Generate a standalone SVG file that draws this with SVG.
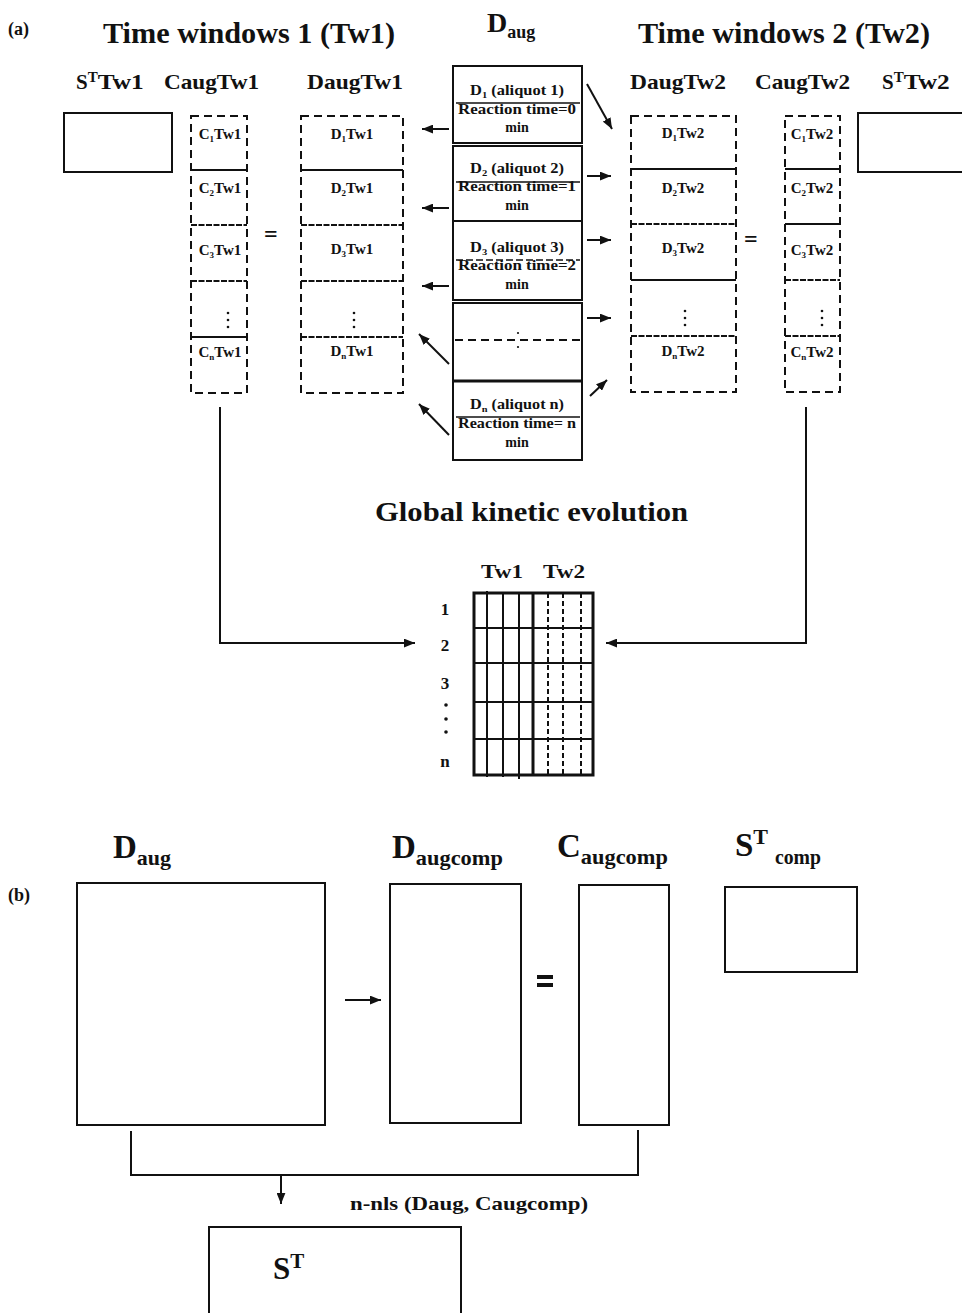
<svg xmlns="http://www.w3.org/2000/svg" width="962" height="1313" viewBox="0 0 962 1313" font-family="'Liberation Serif', 'Times New Roman', Times, serif">
<style>
text{font-family:'Liberation Serif','Times New Roman',Times,serif;font-weight:bold;fill:#111}
.box{fill:none;stroke:#111;stroke-width:2}
.dbox{fill:none;stroke:#111;stroke-width:2;stroke-dasharray:8 5}
.sep{stroke:#111;stroke-width:2}
.wav{stroke:#111;stroke-width:2.2;stroke-dasharray:6 1.5}
.cell{font-size:15px}
.hdr{font-size:21px}
.big{font-size:29px}
.al{font-size:14px}
.dot{fill:#111}
</style>
<defs>
<marker id="ah" viewBox="0 0 10 8" refX="10" refY="4" markerWidth="11" markerHeight="9" markerUnits="userSpaceOnUse" orient="auto"><path d="M0,0 L10,4 L0,8 z" fill="#111"/></marker>
</defs>
<rect width="962" height="1313" fill="#fff"/>

<g id="titles-a">
<text x="8" y="35" font-size="18">(a)</text>
<text x="103" y="43" class="big" textLength="292" lengthAdjust="spacingAndGlyphs">Time windows 1 (Tw1)</text>
<text x="487" y="32" font-size="28">D<tspan font-size="18" dy="6">aug</tspan></text>
<text x="638" y="43" class="big" textLength="292" lengthAdjust="spacingAndGlyphs">Time windows 2 (Tw2)</text>
</g>

<g id="st-tw1">
<text x="76" y="89" class="hdr">S<tspan font-size="15" dy="-7">T</tspan><tspan dy="7" textLength="46" lengthAdjust="spacingAndGlyphs">Tw1</tspan></text>
<rect x="64" y="113" width="108" height="59" class="box"/>
</g>

<g id="caug-tw1">
<text x="164" y="89" class="hdr" textLength="95" lengthAdjust="spacingAndGlyphs">CaugTw1</text>
<rect x="191" y="116" width="56" height="277" class="dbox"/>
<line x1="191" y1="170" x2="247" y2="170" class="sep"/>
<line x1="191" y1="225" x2="247" y2="225" class="wav"/>
<line x1="191" y1="281" x2="247" y2="281" class="wav"/>
<line x1="191" y1="337" x2="247" y2="337" class="sep"/>
<text x="220" y="139" class="cell" text-anchor="middle">C<tspan font-size="9" dy="3">1</tspan><tspan dy="-3">Tw1</tspan></text>
<text x="220" y="193" class="cell" text-anchor="middle">C<tspan font-size="9" dy="3">2</tspan><tspan dy="-3">Tw1</tspan></text>
<text x="220" y="255" class="cell" text-anchor="middle">C<tspan font-size="9" dy="3">3</tspan><tspan dy="-3">Tw1</tspan></text>
<circle cx="228" cy="313" r="1.3" class="dot"/><circle cx="228" cy="320" r="1.3" class="dot"/><circle cx="228" cy="327" r="1.3" class="dot"/>
<text x="220" y="357" class="cell" text-anchor="middle">C<tspan font-size="9" dy="3">n</tspan><tspan dy="-3">Tw1</tspan></text>
</g>

<text x="264" y="242" font-size="24">=</text>

<g id="daug-tw1">
<text x="307" y="89" class="hdr" textLength="96" lengthAdjust="spacingAndGlyphs">DaugTw1</text>
<rect x="301" y="116" width="102" height="277" class="dbox"/>
<line x1="301" y1="170" x2="403" y2="170" class="sep"/>
<line x1="301" y1="225" x2="403" y2="225" class="wav"/>
<line x1="301" y1="281" x2="403" y2="281" class="wav"/>
<line x1="301" y1="337" x2="403" y2="337" class="wav"/>
<text x="352" y="139" class="cell" text-anchor="middle">D<tspan font-size="9" dy="3">1</tspan><tspan dy="-3">Tw1</tspan></text>
<text x="352" y="193" class="cell" text-anchor="middle">D<tspan font-size="9" dy="3">2</tspan><tspan dy="-3">Tw1</tspan></text>
<text x="352" y="254" class="cell" text-anchor="middle">D<tspan font-size="9" dy="3">3</tspan><tspan dy="-3">Tw1</tspan></text>
<circle cx="354" cy="313" r="1.3" class="dot"/><circle cx="354" cy="320" r="1.3" class="dot"/><circle cx="354" cy="327" r="1.3" class="dot"/>
<text x="352" y="356" class="cell" text-anchor="middle">D<tspan font-size="9" dy="3">n</tspan><tspan dy="-3">Tw1</tspan></text>
</g>

<g id="daug-stack">
<rect x="453" y="66" width="129" height="77" class="box"/>
<rect x="453" y="146" width="129" height="75" class="box"/>
<rect x="453" y="221" width="129" height="79" class="box"/>
<rect x="453" y="303" width="129" height="78" class="box"/>
<rect x="453" y="381" width="129" height="79" class="box"/>
<line x1="453" y1="381" x2="582" y2="381" stroke="#111" stroke-width="3"/>
<text x="517" y="95" class="al" text-anchor="middle" textLength="94" lengthAdjust="spacingAndGlyphs">D<tspan font-size="9" dy="3">1</tspan><tspan dy="-3"> (aliquot 1)</tspan></text>
<line x1="456" y1="103" x2="580" y2="103" stroke="#111" stroke-width="1.5"/>
<text x="517" y="114" class="al" text-anchor="middle" textLength="118" lengthAdjust="spacingAndGlyphs">Reaction time=0</text>
<text x="517" y="132" class="al" text-anchor="middle">min</text>
<text x="517" y="173" class="al" text-anchor="middle" textLength="94" lengthAdjust="spacingAndGlyphs">D<tspan font-size="9" dy="3">2</tspan><tspan dy="-3"> (aliquot 2)</tspan></text>
<line x1="456" y1="182" x2="580" y2="182" stroke="#111" stroke-width="1.5"/>
<text x="517" y="191" class="al" text-anchor="middle" textLength="118" lengthAdjust="spacingAndGlyphs">Reaction time=1</text>
<text x="517" y="210" class="al" text-anchor="middle">min</text>
<text x="517" y="252" class="al" text-anchor="middle" textLength="94" lengthAdjust="spacingAndGlyphs">D<tspan font-size="9" dy="3">3</tspan><tspan dy="-3"> (aliquot 3)</tspan></text>
<line x1="456" y1="260" x2="580" y2="260" stroke="#111" stroke-width="1.5" stroke-dasharray="7 3"/>
<text x="517" y="270" class="al" text-anchor="middle" textLength="118" lengthAdjust="spacingAndGlyphs">Reaction time=2</text>
<text x="517" y="289" class="al" text-anchor="middle">min</text>
<line x1="455" y1="340" x2="580" y2="340" stroke="#111" stroke-width="2" stroke-dasharray="8 5"/>
<circle cx="518" cy="333" r="1.1" class="dot"/><circle cx="518" cy="347" r="1.1" class="dot"/>
<text x="517" y="409" class="al" text-anchor="middle" textLength="94" lengthAdjust="spacingAndGlyphs">D<tspan font-size="9" dy="3">n</tspan><tspan dy="-3"> (aliquot n)</tspan></text>
<line x1="456" y1="417" x2="580" y2="417" stroke="#111" stroke-width="1.5"/>
<text x="517" y="428" class="al" text-anchor="middle" textLength="118" lengthAdjust="spacingAndGlyphs">Reaction time= n</text>
<text x="517" y="447" class="al" text-anchor="middle">min</text>
</g>

<g id="daug-tw2">
<text x="630" y="89" class="hdr" textLength="96" lengthAdjust="spacingAndGlyphs">DaugTw2</text>
<rect x="631" y="116" width="105" height="276" class="dbox"/>
<line x1="631" y1="169" x2="736" y2="169" class="sep"/>
<line x1="631" y1="224" x2="736" y2="224" class="wav"/>
<line x1="631" y1="280" x2="736" y2="280" class="sep"/>
<line x1="631" y1="336" x2="736" y2="336" class="wav"/>
<text x="683" y="138" class="cell" text-anchor="middle">D<tspan font-size="9" dy="3">1</tspan><tspan dy="-3">Tw2</tspan></text>
<text x="683" y="193" class="cell" text-anchor="middle">D<tspan font-size="9" dy="3">2</tspan><tspan dy="-3">Tw2</tspan></text>
<text x="683" y="253" class="cell" text-anchor="middle">D<tspan font-size="9" dy="3">3</tspan><tspan dy="-3">Tw2</tspan></text>
<circle cx="685" cy="311" r="1.3" class="dot"/><circle cx="685" cy="318" r="1.3" class="dot"/><circle cx="685" cy="325" r="1.3" class="dot"/>
<text x="683" y="356" class="cell" text-anchor="middle">D<tspan font-size="9" dy="3">n</tspan><tspan dy="-3">Tw2</tspan></text>
</g>

<text x="744" y="247" font-size="24">=</text>

<g id="caug-tw2">
<text x="755" y="89" class="hdr" textLength="95" lengthAdjust="spacingAndGlyphs">CaugTw2</text>
<rect x="785" y="116" width="55" height="276" class="dbox"/>
<line x1="785" y1="169" x2="840" y2="169" class="sep"/>
<line x1="785" y1="224" x2="840" y2="224" class="sep"/>
<line x1="785" y1="280" x2="840" y2="280" class="wav"/>
<line x1="785" y1="336" x2="840" y2="336" class="wav"/>
<text x="812" y="139" class="cell" text-anchor="middle">C<tspan font-size="9" dy="3">1</tspan><tspan dy="-3">Tw2</tspan></text>
<text x="812" y="193" class="cell" text-anchor="middle">C<tspan font-size="9" dy="3">2</tspan><tspan dy="-3">Tw2</tspan></text>
<text x="812" y="255" class="cell" text-anchor="middle">C<tspan font-size="9" dy="3">3</tspan><tspan dy="-3">Tw2</tspan></text>
<circle cx="822" cy="311" r="1.3" class="dot"/><circle cx="822" cy="318" r="1.3" class="dot"/><circle cx="822" cy="325" r="1.3" class="dot"/>
<text x="812" y="357" class="cell" text-anchor="middle">C<tspan font-size="9" dy="3">n</tspan><tspan dy="-3">Tw2</tspan></text>
</g>

<g id="st-tw2">
<text x="882" y="89" class="hdr">S<tspan font-size="15" dy="-7">T</tspan><tspan dy="7" textLength="46" lengthAdjust="spacingAndGlyphs">Tw2</tspan></text>
<rect x="858" y="113" width="112" height="59" class="box"/>
</g>

<g id="global-grid">
<text x="375" y="521" font-size="28" textLength="313" lengthAdjust="spacingAndGlyphs">Global kinetic evolution</text>
<text x="481" y="578" font-size="19" textLength="42" lengthAdjust="spacingAndGlyphs">Tw1</text>
<text x="543" y="578" font-size="19" textLength="42" lengthAdjust="spacingAndGlyphs">Tw2</text>
<text x="445" y="615" font-size="17" text-anchor="middle">1</text>
<text x="445" y="651" font-size="17" text-anchor="middle">2</text>
<text x="445" y="689" font-size="17" text-anchor="middle">3</text>
<circle cx="446" cy="705" r="1.8" class="dot"/><circle cx="446" cy="719" r="1.8" class="dot"/><circle cx="446" cy="732" r="1.8" class="dot"/>
<text x="445" y="767" font-size="17" text-anchor="middle">n</text>
<line x1="474" y1="628" x2="594" y2="628" class="sep"/>
<line x1="474" y1="663" x2="594" y2="663" class="sep"/>
<line x1="474" y1="702" x2="594" y2="702" class="sep"/>
<line x1="474" y1="739" x2="594" y2="739" class="sep"/>
<line x1="487" y1="591" x2="487" y2="777" class="sep"/>
<line x1="503" y1="593" x2="503" y2="777" class="sep"/>
<line x1="519" y1="593" x2="519" y2="779" class="sep"/>
<line x1="533" y1="593" x2="533" y2="775" stroke="#111" stroke-width="3"/>
<line x1="548" y1="593" x2="548" y2="775" stroke="#111" stroke-width="2" stroke-dasharray="5 3"/>
<line x1="563" y1="593" x2="563" y2="775" stroke="#111" stroke-width="2" stroke-dasharray="5 3"/>
<line x1="581" y1="593" x2="581" y2="775" stroke="#111" stroke-width="2" stroke-dasharray="5 3"/>
<rect x="474" y="593" width="119" height="182" fill="none" stroke="#111" stroke-width="3"/>
</g>

<g id="daug-b">
<text x="8" y="901" font-size="18">(b)</text>
<text x="113" y="858" font-size="33">D<tspan font-size="22" dy="7">aug</tspan></text>
<rect x="77" y="883" width="248" height="242" class="box"/>
</g>
<g id="daugcomp-b">
<text x="392" y="858" font-size="33">D<tspan font-size="22" dy="7" textLength="87" lengthAdjust="spacingAndGlyphs">augcomp</tspan></text>
<rect x="390" y="884" width="131" height="239" class="box"/>
</g>
<g id="eq-b">
<rect x="537" y="975" width="16" height="4" fill="#111"/>
<rect x="537" y="983" width="16" height="4" fill="#111"/>
</g>
<g id="caugcomp-b">
<text x="557" y="857" font-size="33">C<tspan font-size="22" dy="7" textLength="87" lengthAdjust="spacingAndGlyphs">augcomp</tspan></text>
<rect x="579" y="885" width="90" height="240" class="box"/>
</g>
<g id="stcomp-b">
<text x="735" y="856" font-size="33">S<tspan font-size="22" dy="-12">T</tspan></text>
<text x="775" y="864" font-size="22" textLength="46" lengthAdjust="spacingAndGlyphs">comp</text>
<rect x="725" y="887" width="132" height="85" class="box"/>
</g>
<g id="st-b">
<rect x="209" y="1227" width="252" height="100" class="box"/>
<text x="273" y="1279" font-size="31">S<tspan font-size="21" dy="-11">T</tspan></text>
</g>
<text x="350" y="1210" font-size="19" textLength="238" lengthAdjust="spacingAndGlyphs">n-nls (Daug, Caugcomp)</text>

<g id="connectors" fill="none" stroke="#111" stroke-width="2">
<line x1="449" y1="129" x2="422" y2="129" marker-end="url(#ah)"/>
<line x1="449" y1="208" x2="422" y2="208" marker-end="url(#ah)"/>
<line x1="449" y1="286" x2="422" y2="286" marker-end="url(#ah)"/>
<line x1="449" y1="364" x2="419" y2="334" marker-end="url(#ah)"/>
<line x1="449" y1="435" x2="419" y2="404" marker-end="url(#ah)"/>
<line x1="587" y1="84" x2="612" y2="129" marker-end="url(#ah)"/>
<line x1="587" y1="176" x2="611" y2="176" marker-end="url(#ah)"/>
<line x1="587" y1="240" x2="611" y2="240" marker-end="url(#ah)"/>
<line x1="587" y1="318" x2="611" y2="318" marker-end="url(#ah)"/>
<line x1="590" y1="396" x2="607" y2="380" marker-end="url(#ah)"/>
<path d="M220,407 V643 H415" marker-end="url(#ah)"/>
<path d="M806,407 V643 H606" marker-end="url(#ah)"/>
<line x1="345" y1="1000" x2="381" y2="1000" marker-end="url(#ah)"/>
<path d="M131,1131 V1175 H638 V1130"/>
<line x1="281" y1="1175" x2="281" y2="1204" marker-end="url(#ah)"/>
</g>
</svg>
